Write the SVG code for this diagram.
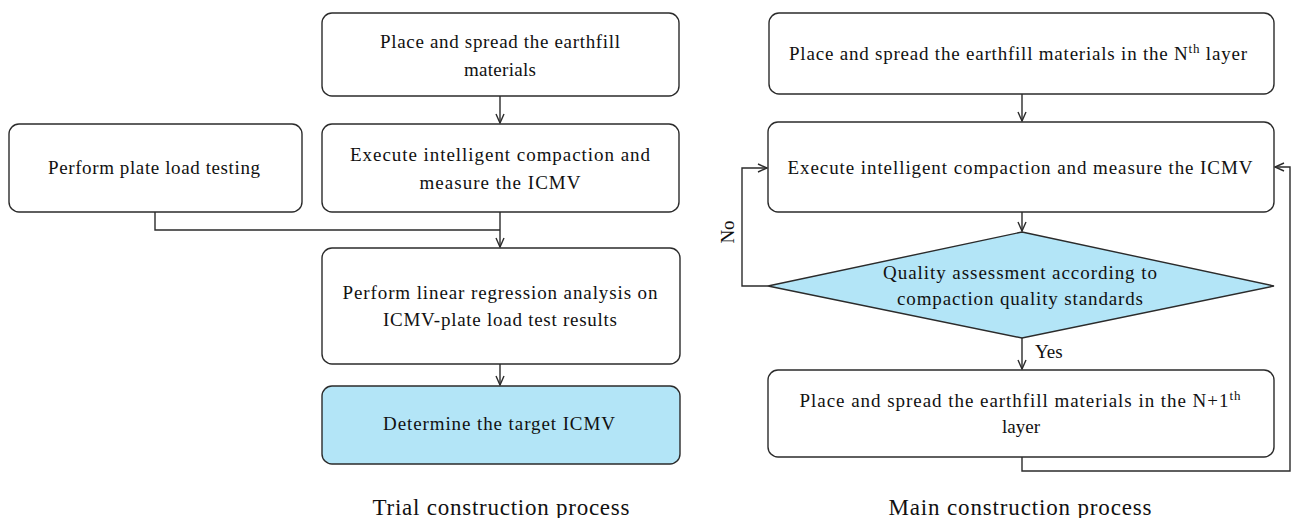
<svg xmlns="http://www.w3.org/2000/svg" width="1295" height="518" viewBox="0 0 1295 518">
<style>
.box{fill:#fff;stroke:#2b2b2b;stroke-width:1.4}
.blue{fill:#b3e5f7}
.t{font-family:"Liberation Serif","Times New Roman",serif;font-size:19px;fill:#111;text-anchor:middle}
.cap{font-family:"Liberation Serif","Times New Roman",serif;font-size:23px;fill:#111;text-anchor:middle}
.c{fill:none;stroke:#2b2b2b;stroke-width:1.4}
</style>
<defs>
<marker id="arr" markerUnits="userSpaceOnUse" markerWidth="12" markerHeight="12" refX="10" refY="5" orient="auto">
<path d="M1,1 L10,5 L1,9" fill="none" stroke="#2b2b2b" stroke-width="1.4"/>
</marker>
</defs>
<rect width="1295" height="518" fill="#fff"/>

<g id="connectors">
<path class="c" d="M500,96 V123" marker-end="url(#arr)"/>
<path class="c" d="M155,212 V230 H500"/>
<path class="c" d="M500,212 V247" marker-end="url(#arr)"/>
<path class="c" d="M500,364 V385" marker-end="url(#arr)"/>
<path class="c" d="M1022,94 V121" marker-end="url(#arr)"/>
<path class="c" d="M1022,212 V231" marker-end="url(#arr)"/>
<path class="c" d="M1022,338 V369" marker-end="url(#arr)"/>
<path class="c" d="M768,286 H742 V168 H767" marker-end="url(#arr)"/>
<path class="c" d="M1022,457 V471 H1290 V167 H1275" marker-end="url(#arr)"/>
<text class="t" transform="translate(734,232) rotate(-90)">No</text>
<text class="t" x="1035" y="358" style="text-anchor:start">Yes</text>
</g>

<g id="trial-place">
<rect class="box" x="322" y="13" width="357" height="83" rx="10"/>
<text class="t" x="500" y="48" textLength="240" lengthAdjust="spacing">Place and spread the earthfill</text>
<text class="t" x="500" y="76" textLength="72" lengthAdjust="spacing">materials</text>
</g>
<g id="trial-plate">
<rect class="box" x="9" y="124" width="293" height="88" rx="10"/>
<text class="t" x="154" y="174" textLength="212" lengthAdjust="spacing">Perform plate load testing</text>
</g>
<g id="trial-compact">
<rect class="box" x="322" y="124" width="357" height="88" rx="10"/>
<text class="t" x="500" y="161" textLength="300" lengthAdjust="spacing">Execute intelligent compaction and</text>
<text class="t" x="500" y="189" textLength="161" lengthAdjust="spacing">measure the ICMV</text>
</g>
<g id="trial-regression">
<rect class="box" x="322" y="248" width="358" height="116" rx="10"/>
<text class="t" x="500" y="299" textLength="315" lengthAdjust="spacing">Perform linear regression analysis on</text>
<text class="t" x="500" y="326" textLength="234" lengthAdjust="spacing">ICMV-plate load test results</text>
</g>
<g id="trial-target">
<rect class="box blue" x="322" y="386" width="358" height="78" rx="10"/>
<text class="t" x="499" y="430" textLength="232" lengthAdjust="spacing">Determine the target ICMV</text>
</g>
<text class="cap" x="501" y="515" textLength="257" lengthAdjust="spacing">Trial construction process</text>

<g id="main-place-n">
<rect class="box" x="769" y="13" width="505" height="81" rx="10"/>
<text class="t" x="1018" y="60" textLength="458" lengthAdjust="spacing">Place and spread the earthfill materials in the N<tspan dy="-7" font-size="13">th</tspan><tspan dy="7"> layer</tspan></text>
</g>
<g id="main-compact">
<rect class="box" x="768" y="122" width="506" height="90" rx="10"/>
<text class="t" x="1020" y="174" textLength="465" lengthAdjust="spacing">Execute intelligent compaction and measure the ICMV</text>
</g>
<g id="main-quality">
<polygon class="box blue" points="1022,232 1274,286 1022,338 768,286"/>
<text class="t" x="1020" y="279" textLength="274" lengthAdjust="spacing">Quality assessment according to</text>
<text class="t" x="1020" y="305" textLength="246" lengthAdjust="spacing">compaction quality standards</text>
</g>
<g id="main-place-n1">
<rect class="box" x="768" y="370" width="506" height="87" rx="10"/>
<text class="t" x="1020" y="407" textLength="441" lengthAdjust="spacing">Place and spread the earthfill materials in the N+1<tspan dy="-7" font-size="13">th</tspan></text>
<text class="t" x="1021" y="433" textLength="38" lengthAdjust="spacing">layer</text>
</g>
<text class="cap" x="1020" y="515" textLength="263" lengthAdjust="spacing">Main construction process</text>
</svg>
